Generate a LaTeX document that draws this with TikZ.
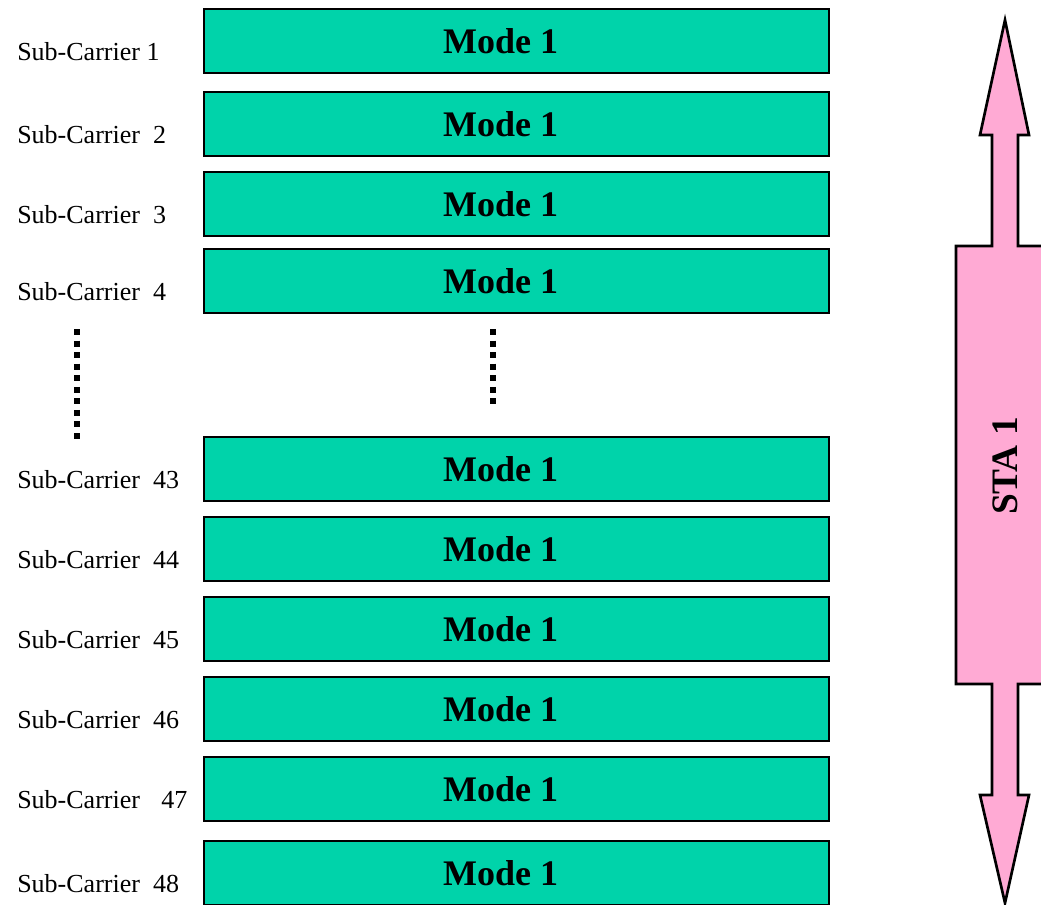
\documentclass[tikz,border=0pt]{standalone}
\usepackage{fontspec}
\setmainfont{Liberation Serif}
\usepackage{tikz}
\usetikzlibrary{positioning}
\usepackage{xcolor}
\definecolor{boxteal}{RGB}{0,211,170}
\definecolor{arrowpink}{RGB}{255,170,212}

\begin{document}
\begin{tikzpicture}[
    x=0.75pt, y=-0.75pt,
    node distance=12pt,
    mode/.style={rectangle, draw=black, line width=1.7pt, fill=boxteal, outer sep=0pt,
                 minimum width=468.75pt, minimum height=48pt, inner sep=0pt,
                 font=\fontsize{27pt}{32pt}\selectfont\bfseries,
                 execute at end node=\hspace*{24pt}},
    carrier/.style={anchor=base west, inner sep=0pt, font=\fontsize{19.5pt}{23pt}\selectfont},
    dots/.style={line width=4.5pt, dash pattern=on 4.5pt off 4.17pt},
    bigarrow/.style={draw=black, line width=2pt, fill=arrowpink, line join=miter}
]
    \clip (0,0) rectangle (1041,904);

    \node[mode] (m1) at (516.5,41) {Mode 1};
    \node[mode, below=14.25pt of m1] (m2) {Mode 1};
    \node[mode, below=of m2] (m3) {Mode 1};
    \node[mode, below=9.75pt of m3] (m4) {Mode 1};
    \node[mode, below=93pt of m4] (m43) {Mode 1};
    \node[mode, below=of m43] (m44) {Mode 1};
    \node[mode, below=of m44] (m45) {Mode 1};
    \node[mode, below=of m45] (m46) {Mode 1};
    \node[mode, below=of m46] (m47) {Mode 1};
    \node[mode, below=15pt of m47] (m48) {Mode 1};

    \node[carrier] (sc1) at (17,60) {Sub-Carrier 1};
    \node[carrier] (sc2) at (17,143) {Sub-Carrier\ \ 2};
    \node[carrier] (sc3) at (17,223) {Sub-Carrier\ \ 3};
    \node[carrier] (sc4) at (17,300) {Sub-Carrier\ \ 4};
    \node[carrier] (sc43) at (17,488) {Sub-Carrier\ \ 43};
    \node[carrier] (sc44) at (17,568) {Sub-Carrier\ \ 44};
    \node[carrier] (sc45) at (17,648) {Sub-Carrier\ \ 45};
    \node[carrier] (sc46) at (17,728) {Sub-Carrier\ \ 46};
    \node[carrier] (sc47) at (17,808) {Sub-Carrier\hspace{16pt}47};
    \node[carrier] (sc48) at (17,892) {Sub-Carrier\ \ 48};

    % skipped sub-carriers
    \draw[dots] (77,329) -- (77,439);
    \draw[dots] (493,329) -- (493,404);

    % station arrow
    \draw[bigarrow] (1005,20) -- (1029,135) -- (1018,135) -- (1018,246) -- (1054,246)
        -- (1054,684) -- (1018,684) -- (1018,795) -- (1029,795) -- (1005,903)
        -- (980,795) -- (992,795) -- (992,684) -- (956,684) -- (956,246)
        -- (992,246) -- (992,135) -- (980,135) -- cycle;
    \node[rotate=90, font=\fontsize{28pt}{32pt}\selectfont\bfseries] (sta) at (1005,466) {STA 1};
\end{tikzpicture}
\end{document}
